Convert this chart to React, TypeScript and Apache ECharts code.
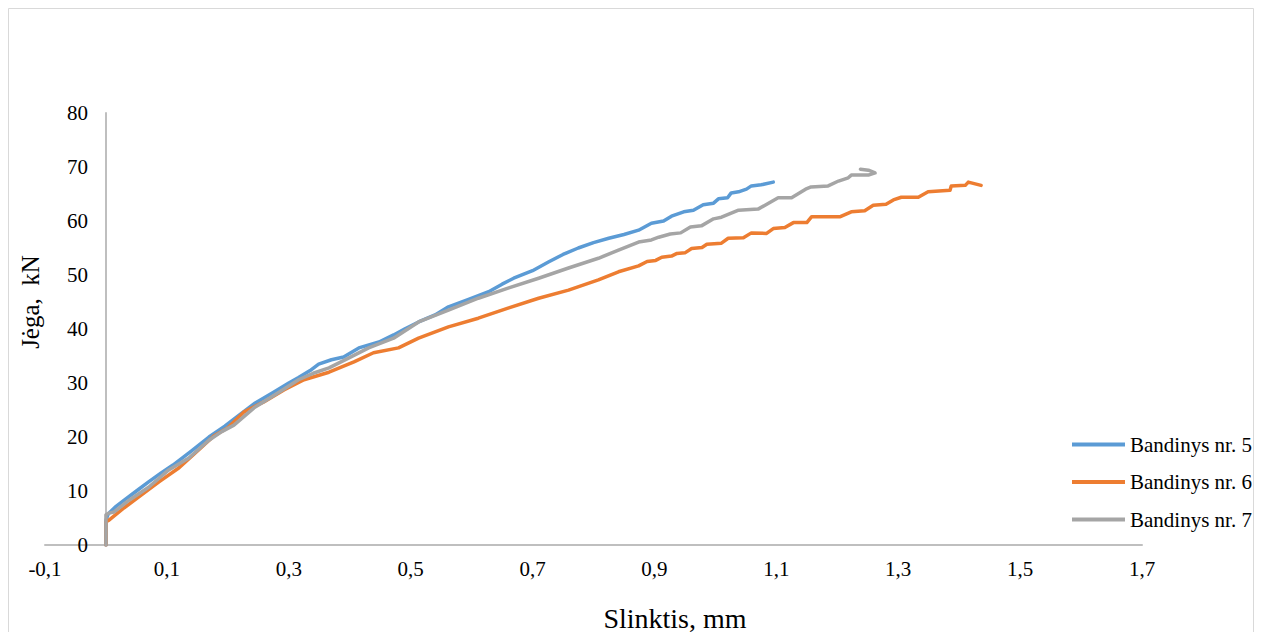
import React, { useEffect, useRef } from 'react';
import * as echarts from 'echarts';

const seriesNames = ['Bandinys nr. 5', 'Bandinys nr. 6', 'Bandinys nr. 7'];
const seriesColors = ['#5b9bd5', '#ed7d31', '#a5a5a5'];

const x5 = [0, 0, 0.004, 0.015, 0.03, 0.05, 0.07, 0.09, 0.11, 0.14, 0.169, 0.195, 0.218, 0.245, 0.275, 0.3, 0.316, 0.335, 0.349, 0.37, 0.39, 0.415, 0.448, 0.472, 0.49, 0.513, 0.54, 0.562, 0.595, 0.628, 0.65, 0.669, 0.7, 0.726, 0.75, 0.775, 0.8, 0.825, 0.85, 0.874, 0.895, 0.915, 0.928, 0.948, 0.964, 0.98, 0.997, 1.005, 1.02, 1.026, 1.038, 1.051, 1.059, 1.075, 1.095];
const y5 = [0, 4.6, 5.8, 7, 8.3, 10, 11.7, 13.3, 14.8, 17.4, 20, 22, 24, 26.3, 28.3, 30, 31, 32.3, 33.5, 34.3, 34.8, 36.5, 37.6, 38.9, 40, 41.3, 42.6, 44.1, 45.5, 46.9, 48.3, 49.4, 50.8, 52.4, 53.8, 55, 56, 56.8, 57.5, 58.3, 59.6, 60, 60.9, 61.7, 62, 63, 63.3, 64.1, 64.3, 65.2, 65.4, 65.9, 66.5, 66.7, 67.2];

const x6 = [0, 0, 0.005, 0.03, 0.054, 0.087, 0.12, 0.152, 0.177, 0.2, 0.226, 0.259, 0.292, 0.325, 0.366, 0.407, 0.439, 0.48, 0.513, 0.562, 0.611, 0.661, 0.71, 0.759, 0.808, 0.841, 0.874, 0.888, 0.902, 0.912, 0.928, 0.937, 0.95, 0.961, 0.978, 0.986, 1.01, 1.021, 1.046, 1.059, 1.084, 1.095, 1.114, 1.128, 1.15, 1.158, 1.205, 1.223, 1.245, 1.259, 1.28, 1.292, 1.305, 1.333, 1.349, 1.385, 1.387, 1.41, 1.415, 1.436];
const y6 = [0, 4.3, 4.6, 6.9, 8.9, 11.7, 14.3, 17.6, 20.2, 21.7, 24.6, 26.5, 28.7, 30.6, 32, 33.9, 35.6, 36.5, 38.3, 40.4, 42, 43.9, 45.7, 47.2, 49.1, 50.6, 51.7, 52.5, 52.7, 53.3, 53.5, 54, 54.1, 54.9, 55.1, 55.7, 55.9, 56.8, 56.9, 57.8, 57.7, 58.6, 58.8, 59.7, 59.7, 60.8, 60.8, 61.7, 61.9, 62.9, 63.1, 63.9, 64.4, 64.4, 65.4, 65.7, 66.5, 66.6, 67.2, 66.6];

const x7 = [0, 0, 0.005, 0.013, 0.038, 0.07, 0.103, 0.136, 0.169, 0.19, 0.21, 0.243, 0.284, 0.316, 0.34, 0.366, 0.398, 0.431, 0.472, 0.513, 0.562, 0.611, 0.661, 0.71, 0.759, 0.808, 0.841, 0.874, 0.895, 0.907, 0.926, 0.943, 0.959, 0.977, 0.997, 1.01, 1.038, 1.07, 1.103, 1.125, 1.148, 1.157, 1.185, 1.202, 1.218, 1.223, 1.251, 1.262, 1.251, 1.238];
const y7 = [0, 5.6, 5.9, 6.1, 8.3, 10.7, 13.9, 16.1, 19.4, 21, 22.2, 25.4, 28.3, 30.6, 31.8, 32.8, 34.6, 36.5, 38.3, 41.3, 43.5, 45.7, 47.6, 49.4, 51.3, 53.1, 54.6, 56.1, 56.5, 57, 57.6, 57.8, 58.9, 59.1, 60.4, 60.7, 62, 62.2, 64.3, 64.3, 65.9, 66.3, 66.5, 67.4, 68, 68.5, 68.5, 68.9, 69.4, 69.6];

const xAxisTitle = 'Slinktis, mm';
const yAxisTitle = 'Jėga,  kN';

const xs = [x5, x6, x7];
const ys = [y5, y6, y7];

const FONT = '"Liberation Serif", "Times New Roman", serif';

export default function App() {
  const ref = useRef<HTMLDivElement>(null);
  useEffect(() => {
    document.documentElement.style.overflow = 'hidden';
    const chart = echarts.init(ref.current!, null, { renderer: 'svg' });
    chart.setOption({
      animation: false,
      backgroundColor: '#ffffff',
      grid: { left: 37, right: 112, top: 105, bottom: 103, containLabel: false },
      legend: {
        orient: 'vertical',
        left: 1059,
        top: 421,
        icon: 'rect',
        itemWidth: 53,
        itemHeight: 4,
        itemGap: 16.5,
        data: seriesNames,
        textStyle: { fontFamily: FONT, fontSize: 21, color: '#000', lineHeight: 21 },
      },
      xAxis: {
        type: 'value',
        min: -0.1,
        max: 1.7,
        interval: 0.1,
        axisLine: { show: true, onZero: false, lineStyle: { color: '#bfbfbf', width: 2 } },
        axisTick: { show: false },
        splitLine: { show: false },
        axisLabel: {
          fontFamily: FONT,
          fontSize: 21,
          color: '#000',
          margin: 13,
          formatter: (v: number) => {
            const k = Math.round(v * 10);
            return Math.abs(k) % 2 === 1 ? (k / 10).toFixed(1).replace('.', ',') : '';
          },
        },
      },
      yAxis: {
        type: 'value',
        min: 0,
        max: 80,
        interval: 10,
        offset: -61,
        axisLine: { show: true, onZero: false, lineStyle: { color: '#bfbfbf', width: 2 } },
        axisTick: { show: false },
        splitLine: { show: false },
        axisLabel: { fontFamily: FONT, fontSize: 21, color: '#000', margin: 18 },
      },
      graphic: [
        {
          type: 'rect',
          silent: true,
          shape: { x: 0.5, y: 0.5, width: 1245, height: 700 },
          style: { fill: 'none', stroke: '#d9d9d9', lineWidth: 1 },
        },
        {
          type: 'text',
          x: 667,
          y: 610,
          style: {
            text: xAxisTitle,
            fontFamily: FONT,
            fontSize: 28,
            fill: '#000',
            textAlign: 'center',
            textVerticalAlign: 'middle',
          },
        },
        {
          type: 'text',
          x: 22,
          y: 294,
          rotation: Math.PI / 2,
          style: {
            text: yAxisTitle,
            fontFamily: FONT,
            fontSize: 25,
            fill: '#000',
            textAlign: 'center',
            textVerticalAlign: 'middle',
          },
        },
      ],
      series: seriesNames.map((name, i) => ({
        name,
        type: 'line',
        symbol: 'none',
        showSymbol: false,
        color: seriesColors[i],
        itemStyle: { color: seriesColors[i] },
        lineStyle: { width: 3.5, color: seriesColors[i], cap: 'round', join: 'round' },
        data: xs[i].map((x, j) => [x, ys[i][j]]),
        z: 2 + i,
      })),
    });
    return () => chart.dispose();
  }, []);
  return <div ref={ref} style={{ width: 1246, height: 640 }} />;
}
